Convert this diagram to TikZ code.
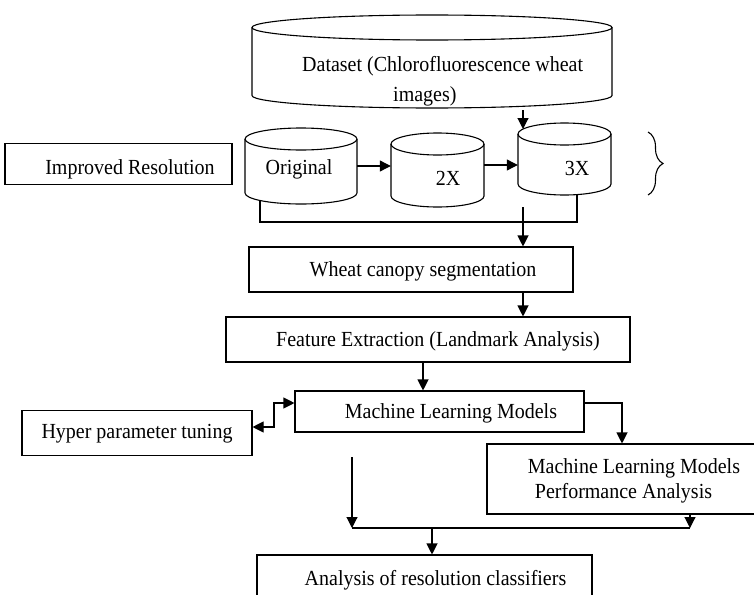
\documentclass[tikz,border=0pt]{standalone}
\usepackage{fontspec}
\setmainfont[FakeStretch=0.93]{Liberation Serif}
\usetikzlibrary{arrows.meta,decorations.pathreplacing}

% drum-shaped store: name, left, right, top, bottom, half height of the end ellipse
\newcommand\drumstore[6]{%
  \pgfmathsetmacro\drumrx{(#3-#2)/2}%
  \pgfmathsetmacro\drumcx{(#2+#3)/2}%
  \pgfmathsetmacro\drumcy{(#4+#5)/2}%
  \node[inner sep=0pt, minimum width={#3-#2}, minimum height={#5-#4}] (#1) at (\drumcx,\drumcy) {};
  \draw[wire] (\drumcx,{#4+#6}) ellipse[x radius=\drumrx pt, y radius=#6pt];
  \draw[wire] (#2,{#4+#6}) -- (#2,{#5-#6})
     arc[start angle=180, end angle=360, x radius=\drumrx pt, y radius=#6pt]
     -- (#3,{#4+#6});
}

\begin{document}
\begin{tikzpicture}[x=1pt,y=-1pt,
  wire/.style={line width=1.1pt},
  tip/.tip={Triangle[length=11pt,width=11pt]},
  arr/.style={wire,-tip},
  darr/.style={wire,tip-tip},
  txt/.style={inner sep=0pt,font=\fontsize{21.5}{24.7}\selectfont},
  box/.style={txt,draw,line width=1.1pt,rectangle,text depth=0pt},
  % (last) baseline sits #1 below the box centre
  drop/.style={text height={#1*2}},
]
\clip (0,0) rectangle (754,594);
\fill[white] (0,0) rectangle (754,594);

% data stores
\drumstore{data}{252}{612}{15}{108}{12.5}
\drumstore{orig}{245}{357}{128}{204}{11}
\drumstore{two}{391}{484}{133}{207}{11}
\drumstore{three}{518}{611}{123}{195}{11}

\node[txt,anchor=base west] (dtitle) at (302,71.5) {Dataset (Chlorofluorescence wheat};
\node[txt,anchor=base west] (dtitle2) at (393,101) {images)};
\node[txt,anchor=base] (origlbl) at (299,174.3) {Original};
\node[txt,anchor=base] (twolbl) at (448,185) {2X};
\node[txt,anchor=base] (threelbl) at (577,175) {3X};

% process boxes
\node[box,drop=10.3pt,minimum width=227,minimum height=41] (impr) at (118.5,164) {\hspace*{23pt}Improved Resolution};
\node[box,drop=6.5pt,minimum width=324,minimum height=45] (seg) at (411,269.5) {\hspace*{24pt}Wheat canopy segmentation};
\node[box,drop=7.2pt,minimum width=404,minimum height=45] (feat) at (428,339.5) {\hspace*{20pt}Feature Extraction (Landmark Analysis)};
\node[box,drop=6.8pt,minimum width=289,minimum height=41] (ml) at (439.5,411.5) {\hspace*{23pt}Machine Learning Models};
\node[box,drop=5.3pt,minimum width=230,minimum height=45] (hyper) at (137,433) {Hyper parameter tuning};
\node[box,drop=19pt,minimum width=273,minimum height=70,align=left] (perf) at (623.5,479)
  {\hspace*{21pt}Machine Learning Models\\\hspace*{28pt}Performance Analysis};
\node[box,drop=6.3pt,minimum width=335,minimum height=48] (ana) at (424.5,579) {\hspace*{22pt}Analysis of resolution classifiers};

% brace beside the resolution stores
\draw[wire,decorate,decoration={brace,amplitude=15pt}] (648,132) -- (648,195);

% junction points
\coordinate (dsout) at (523,110);
\coordinate (tin) at (523,129);
\coordinate (ob) at (260,200.5);
\coordinate (tb) at (577,194.7);
\coordinate (segin) at (523,207);
\coordinate (lv) at (352,457);
\coordinate (jl) at (352,528);
\coordinate (jr) at (690,528);
\coordinate (jm) at (432,528);

% connectors
\draw[arr] (dsout) -- (tin);
\draw[arr] (orig.east |- 0,166) -- (two.west |- 0,166);
\draw[arr] (two.east |- 0,165) -- (three.west |- 0,165);
\draw[wire] (ob) |- (tb |- 0,222) -- (tb);
\draw[arr] (segin) -- (seg.north -| segin);
\draw[arr] (seg.south -| 523,0) -- (feat.north -| 523,0);
\draw[arr] (feat.south -| 423,0) -- (ml.north -| 423,0);
\draw[darr] (hyper.east |- 0,427) -- (274,427) -- (274,403) -- (ml.west |- 0,403);
\draw[arr] (ml.east |- 0,403) -| (perf.north -| 622,0);
\draw[arr] (lv) -- (jl);
\draw[wire] (jl) -- (jr);
\draw[arr] (perf.south -| jr) -- (jr);
\draw[arr] (jm) -- (ana.north -| jm);
\end{tikzpicture}
\end{document}
